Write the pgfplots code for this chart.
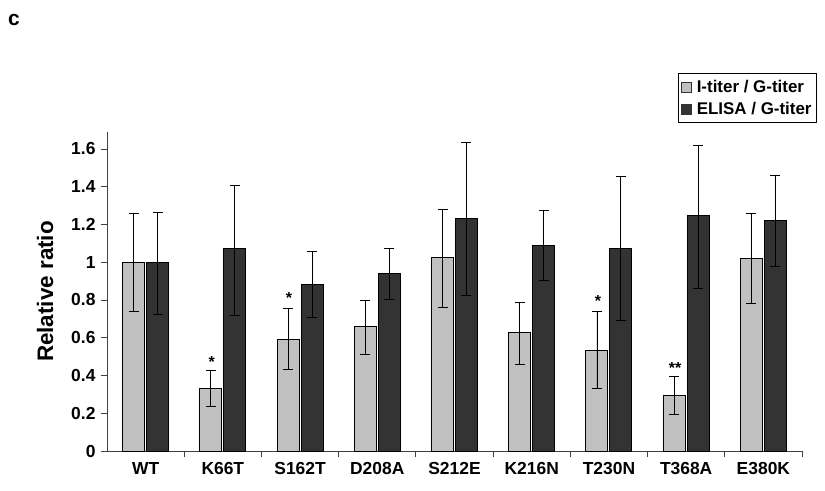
\documentclass[border=0pt]{standalone}
\usepackage{fontspec}
\setmainfont{Liberation Sans}
\usepackage{pgfplots}
\pgfplotsset{compat=1.18}
\definecolor{lightbar}{RGB}{192,192,192}
\definecolor{darkbar}{RGB}{51,51,51}
\begin{document}
\begin{tikzpicture}
\begin{axis}[
  scale only axis, width=695bp, height=319bp,
  xmin=-0.5, xmax=8.5, ymin=0, ymax=1.69,
  axis lines*=left,
  axis line style={line width=0.9pt, black!75},
  ybar, bar width=22bp,
  xtick={0,...,8},
  xticklabels={WT,K66T,S162T,D208A,S212E,K216N,T230N,T368A,E380K},
  major x tick style={draw=none},
  minor xtick={0.5,1.5,2.5,3.5,4.5,5.5,6.5,7.5,8.5},
  minor x tick style={black!75, line width=0.9pt},
  minor tick length=6bp,
  major tick length=6bp,
  tick align=outside,
  ytick={0,0.2,0.4,0.6,0.8,1,1.2,1.4,1.6},
  yticklabels={0,0.2,0.4,0.6,0.8,1,1.2,1.4,1.6},
  y tick style={black!75, line width=0.9pt},
  ticklabel style={font=\bfseries\fontsize{17.5}{20}\selectfont},
  xticklabel style={yshift=-2bp},
  yticklabel style={xshift=-2bp},
  ylabel={Relative ratio},
  every axis y label/.style={at={(rel axis cs:0,0.5)}, xshift=-62bp, rotate=90, anchor=center, font=\bfseries\fontsize{22.5}{26}\selectfont},
  legend style={at={(1.0216,1.185)}, anchor=north east, draw=black, line width=0.9pt,
    font=\bfseries\fontsize{17}{21}\selectfont, inner xsep=3bp, inner ysep=5bp, row sep=4bp,
    cells={anchor=west}},
  legend image code/.code={\draw[#1, draw=black!80, line width=0.6pt] (0bp,-5bp) rectangle (10bp,5bp); \path (13bp,0bp);},
  clip=false,
]
\addplot[fill=lightbar, draw=black, line width=1pt,
  error bars/.cd, y dir=both, y explicit,
  error bar style={black, line width=0.9pt},
  error mark options={black, rotate=90, mark size=5bp, line width=0.9pt}]
  coordinates {
  (0,1.000) += (0,0.256) -= (0,0.262)
  (1,0.332) += (0,0.094) -= (0,0.095)
  (2,0.593) += (0,0.163) -= (0,0.162)
  (3,0.657) += (0,0.143) -= (0,0.147)
  (4,1.026) += (0,0.256) -= (0,0.263)
  (5,0.629) += (0,0.159) -= (0,0.173)
  (6,0.533) += (0,0.205) -= (0,0.203)
  (7,0.293) += (0,0.101) -= (0,0.099)
  (8,1.021) += (0,0.236) -= (0,0.239)
  };
\addlegendentry{I-titer / G-titer}
\addplot[fill=darkbar, draw=black, line width=1pt,
  error bars/.cd, y dir=both, y explicit,
  error bar style={black, line width=0.9pt},
  error mark options={black, rotate=90, mark size=5bp, line width=0.9pt}]
  coordinates {
  (0,1.000) += (0,0.265) -= (0,0.276)
  (1,1.072) += (0,0.337) -= (0,0.352)
  (2,0.881) += (0,0.175) -= (0,0.176)
  (3,0.938) += (0,0.137) -= (0,0.133)
  (4,1.233) += (0,0.400) -= (0,0.407)
  (5,1.088) += (0,0.184) -= (0,0.187)
  (6,1.075) += (0,0.377) -= (0,0.381)
  (7,1.245) += (0,0.376) -= (0,0.383)
  (8,1.220) += (0,0.239) -= (0,0.244)
  };
\addlegendentry{ELISA / G-titer}
\node[anchor=base, xshift=-11bp, font=\bfseries\fontsize{16}{18}\selectfont] at (axis cs:1,0.445) {*};
\node[anchor=base, xshift=-11bp, font=\bfseries\fontsize{16}{18}\selectfont] at (axis cs:2,0.784) {*};
\node[anchor=base, xshift=-11bp, font=\bfseries\fontsize{16}{18}\selectfont] at (axis cs:6,0.763) {*};
\node[anchor=base, xshift=-11bp, font=\bfseries\fontsize{16}{18}\selectfont] at (axis cs:7,0.408) {**};
\coordinate (O) at (rel axis cs:0,0);
\end{axis}
\node[anchor=center, font=\bfseries\fontsize{21}{24}\selectfont] at ([xshift=-93bp, yshift=431bp]O) {c};
\path (O) ++(-107bp,-40bp) rectangle ++(825bp,491bp);
\end{tikzpicture}
\end{document}
